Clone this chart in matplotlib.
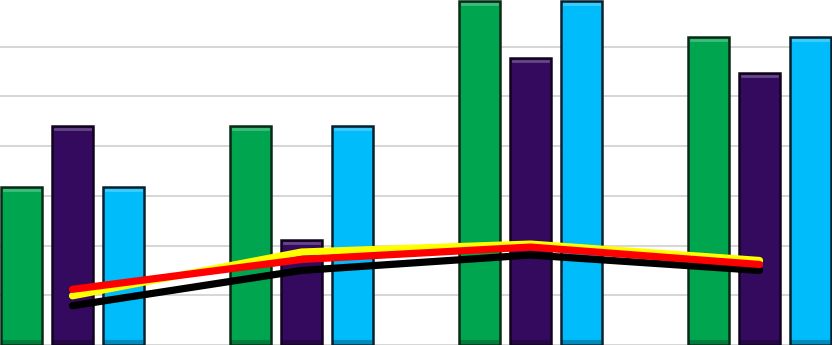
import numpy as np
import matplotlib.pyplot as plt

groups = np.arange(4)
green_vals = [3.18, 4.40, 6.92, 6.19]
purple_vals = [4.40, 2.11, 5.78, 5.48]
blue_vals = [3.18, 4.40, 6.92, 6.19]

black_line = [0.79, 1.50, 1.81, 1.50]
yellow_line = [0.99, 1.87, 2.03, 1.70]
red_line = [1.12, 1.72, 1.97, 1.62]

fig = plt.figure(figsize=(8.32, 3.45), dpi=100)
ax = fig.add_axes([0, 0, 1, 1])

w = 0.175
off = 0.2227
bar_specs = [(-off, green_vals, '#00A64F', '#0A2A16'),
             (0, purple_vals, '#330A5E', '#12041F'),
             (off, blue_vals, '#00BCFA', '#08202E')]
for dx, vals, col, edge in bar_specs:
    ax.bar(groups + dx, vals, width=w, color=col, edgecolor=edge, linewidth=1.8, zorder=2)
    # simple bevel: light strip at the top, dark strip at the bottom
    for x, v in zip(groups + dx, vals):
        ax.plot([x - w / 2 + 0.012, x + w / 2 - 0.012], [v - 0.06, v - 0.06],
                color='white', alpha=0.25, lw=2, zorder=3)
        ax.plot([x - w / 2 + 0.012, x + w / 2 - 0.012], [0.06, 0.06],
                color='black', alpha=0.25, lw=3, zorder=3)

ax.plot(groups, black_line, color='black', lw=5.2, solid_capstyle='round', zorder=4)
ax.plot(groups, yellow_line, color='#FFFF00', lw=5.2, solid_capstyle='round', zorder=5)
ax.plot(groups, red_line, color='#FF0000', lw=5.2, solid_capstyle='round', zorder=6)

ax.set_xlim(-0.3166, 3.3166)
ax.set_ylim(0, 6.94)
ax.set_yticks(np.arange(0, 7, 1))
ax.grid(axis='y', color='#D0D0D0', lw=1.2, zorder=0)
ax.set_axisbelow(True)
ax.tick_params(left=False, bottom=False, labelleft=False, labelbottom=False)
for s in ax.spines.values():
    s.set_visible(False)

fig.savefig('out.png', dpi=100)
